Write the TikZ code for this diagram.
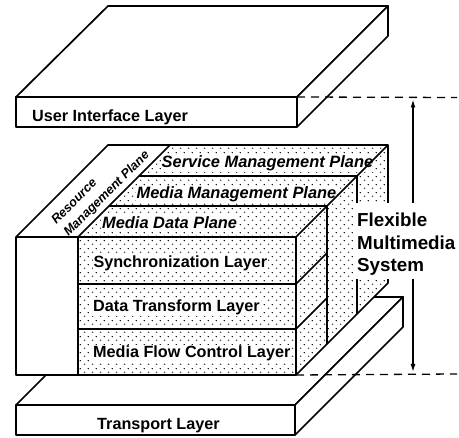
\documentclass[tikz,border=0pt]{standalone}
\usepackage{fontspec}
\setmainfont{Liberation Sans}
\usetikzlibrary{arrows.meta,patterns}

% sparse staggered dots for the shaded faces
\pgfdeclarepatternformonly{sparsedots}{\pgfqpoint{0pt}{0pt}}{\pgfqpoint{7.5pt}{8pt}}{\pgfqpoint{7.5pt}{8pt}}{%
  \pgfpathcircle{\pgfqpoint{1.8pt}{2pt}}{0.75pt}%
  \pgfpathcircle{\pgfqpoint{5.55pt}{6pt}}{0.75pt}%
  \pgfusepath{fill}%
}

\tikzset{
  edge/.style={line width=1.7pt, line join=round},
  guide/.style={line width=1.3pt, dash pattern=on 8pt off 6pt},
  span/.style={line width=1.4pt, {Latex[length=8pt,width=5pt]}-{Latex[length=8pt,width=5pt]}},
  layerlabel/.style={font=\fontsize{16.2}{19}\selectfont\bfseries, anchor=base west, inner sep=1pt, fill=white},
  planelabel/.style={font=\fontsize{16.4}{19}\selectfont\bfseries\itshape, anchor=base west, inner sep=1pt, fill=white},
}

\begin{document}
\begin{tikzpicture}[x=1pt,y=-1pt]
\useasboundingbox (0,0) rectangle (459,438);

% ---------- user interface slab ----------
\coordinate (uiA) at (16,97);   \coordinate (uiB) at (297,97);
\coordinate (uiC) at (297,127); \coordinate (uiD) at (16,127);
\coordinate (uiE) at (108,6);   \coordinate (uiF) at (388,6);
\coordinate (uiG) at (388,36);
\filldraw[edge, fill=white] (uiA) -- (uiE) -- (uiF) -- (uiB) -- cycle;
\filldraw[edge, fill=white] (uiB) -- (uiF) -- (uiG) -- (uiC) -- cycle;
\filldraw[edge, fill=white] (uiA) rectangle (uiC);
\node[layerlabel] (ui) at (31,122) {User Interface Layer};

% ---------- transport slab ----------
\coordinate (tA) at (16,405);  \coordinate (tB) at (295,405);
\coordinate (tC) at (295,435); \coordinate (tD) at (16,435);
\coordinate (tE) at (124,297); \coordinate (tF) at (403,297);
\coordinate (tG) at (403,327);
\filldraw[edge, fill=white] (tA) -- (tE) -- (tF) -- (tB) -- cycle;
\filldraw[edge, fill=white] (tB) -- (tF) -- (tG) -- (tC) -- cycle;
\filldraw[edge, fill=white] (tA) rectangle (tC);
\node[layerlabel] (tr) at (96,430) {Transport Layer};

% ---------- multimedia system stack ----------
\coordinate (s1) at (16,237);  \coordinate (s2) at (78,237);  \coordinate (s3) at (296,237);
\coordinate (s4) at (16,375);  \coordinate (s5) at (78,375);  \coordinate (s6) at (296,375);
\coordinate (b1) at (108,145); \coordinate (b2) at (170,145); \coordinate (b3) at (388,145);
\coordinate (b4) at (388,283);
% depth slices (one third of the depth each)
\coordinate (m1) at (108.67,206.33); \coordinate (m2) at (326.67,206.33);
\coordinate (n1) at (139.33,175.67); \coordinate (n2) at (357.33,175.67);
\coordinate (m3) at (326.67,344.33); \coordinate (n3) at (357.33,313.67);
% layer boundaries on the front and right faces
\coordinate (l1) at (78,284);  \coordinate (r1) at (296,284); \coordinate (d1) at (326.67,253.33);
\coordinate (l2) at (78,329);  \coordinate (r2) at (296,329); \coordinate (d2) at (326.67,298.33);

\fill[white] (s4) -- (s1) -- (b1) -- (b3) -- (b4) -- (s6) -- cycle;
\fill[pattern=sparsedots] (s5) -- (s2) -- (b2) -- (b3) -- (b4) -- (s6) -- cycle;

\node[layerlabel] (sync) at (92.3,268) {Synchronization Layer};
\node[layerlabel] (dtl)  at (92,312)   {Data Transform Layer};
\node[layerlabel] (mfc)  at (92,358)   {Media Flow Control Layer};
\node[planelabel] (mdp)  at (101,229)  {Media Data Plane};
\node[planelabel] (mmp)  at (135.5,199) {Media Management Plane};
\node[planelabel] (smp)  at (160.5,168) {Service Management Plane};
\node[font=\fontsize{12.7}{17.3}\selectfont\bfseries\itshape, align=left,
      rotate=45, inner sep=0pt] (rmp) at (101,188) {Resource\\Management Plane};

% outlines
\draw[edge] (s4) -- (s1) -- (b1) -- (b3) -- (b4) -- (s6) -- cycle;
\draw[edge] (s1) -- (s3);
\draw[edge] (s2) -- (b2);
\draw[edge] (s3) -- (b3);
\draw[edge] (s2) -- (s5);
\draw[edge] (s3) -- (s6);
\draw[edge] (m1) -- (m2) -- (m3);
\draw[edge] (n1) -- (n2) -- (n3);
\draw[edge] (l1) -- (r1) -- (d1);
\draw[edge] (l2) -- (r2) -- (d2);

% ---------- extent of the flexible multimedia system ----------
\coordinate (gTop) at (457,97.5);
\coordinate (gBot) at (457,374);
\draw[guide] (uiB) -- (gTop);
\draw[guide] (s6) -- (gBot);
\coordinate (arT) at (413,99.5);
\coordinate (arB) at (413,372);
\draw[span] (arT) -- (arB);

\fill[white] (355.5,203) rectangle (457,279);
\node[font=\fontsize{18.8}{22.5}\selectfont\bfseries, align=left, anchor=north west,
      inner sep=0pt] (fms) at (357,213) {Flexible\\Multimedia\\System};
\end{tikzpicture}
\end{document}
